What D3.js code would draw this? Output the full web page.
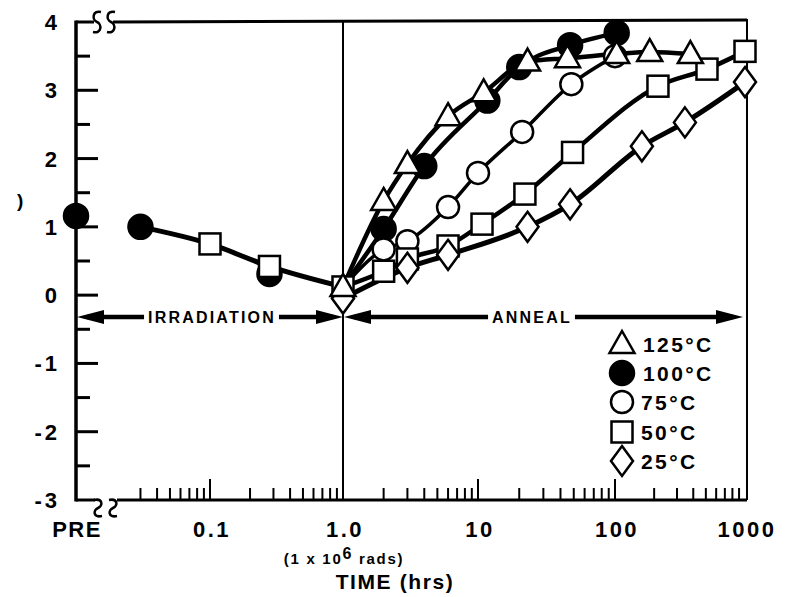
<!DOCTYPE html>
<html>
<head>
<meta charset="utf-8">
<script src="https://cdn.jsdelivr.net/npm/d3@7"></script>
<style>
  body { margin: 0; background: #fff; }
  svg { display: block; }
  text { font-family: "Liberation Sans", Arial, Helvetica, sans-serif; font-weight: bold; fill: #000; }
</style>
</head>
<body>
<svg id="chart" width="792" height="597"></svg>
<script>
// ---------- data ----------
const xMajorHours = [0.1, 1, 10, 100, 1000];
const xMajorLabels = ["0.1", "1.0", "10", "100", "1000"];
const yTickValues = [-3, -2, -1, 0, 1, 2, 3, 4];
const yTickLabels = ["-3", "-2", "-1", "0", "1", "2", "3", "4"];

// pre-irradiation reading
const preLabel = "PRE";
const preValue = 1.16;

// during irradiation (dose ramp up to 1 hour)
const irradHours   = [0.03, 0.1, 0.28, 1];
const irradValues  = [1.0, 0.75, 0.42, 0.12];
const irradSymbols = ["filled", "square", "square", null];
const irradHiddenHours  = [0.28];   // 100°C part sitting under the square
const irradHiddenValues = [0.31];

// anneal curves
const seriesNames   = ["125°C", "100°C", "75°C", "50°C", "25°C"];
const seriesSymbols = ["triangle", "filled", "circle", "square", "diamond"];

const hours125  = [1, 2, 3, 6, 11, 23, 45, 103, 185, 380];
const values125 = [0.12, 1.38, 1.92, 2.62, 2.97, 3.42, 3.47, 3.53, 3.56, 3.53];

const hours100  = [1, 2, 4, 11.7, 20, 47, 103];
const values100 = [0.12, 0.97, 1.89, 2.85, 3.34, 3.66, 3.84];

const hours75   = [1, 2, 3, 6, 10, 21, 48, 100];
const values75  = [0.12, 0.67, 0.79, 1.29, 1.79, 2.39, 3.09, 3.5];

const hours50   = [1, 2, 3, 6, 10.7, 22, 49, 214, 510, 1000];
const values50  = [0.12, 0.35, 0.53, 0.72, 1.04, 1.48, 2.09, 3.06, 3.31, 3.57];

const hours25   = [1, 3, 6, 23, 47, 161, 345, 1000];
const values25  = [-0.05, 0.4, 0.59, 1.0, 1.33, 2.18, 2.53, 3.12];

const annealHours  = [hours125, hours100, hours75, hours50, hours25];
const annealValues = [values125, values100, values75, values50, values25];

// ---------- layout ----------
const svg = d3.select("#chart");
const plotLeft = 76, plotRight = 747, plotTop = 22, plotBottom = 500;

// hand-ruled log axis: decades are not perfectly even
const x = d3.scaleLog()
  .domain([0.1, 1, 10, 100, 1000])
  .range([210, 343, 478, 615, 745]);
const xPre = d3.scaleOrdinal().domain([preLabel]).range([plotLeft]);
const y = d3.scaleLinear().domain([-3, 4]).range([plotBottom, plotTop]);

// ---------- frame ----------
const frame = svg.append("g").attr("fill", "none").attr("stroke", "#000");

// S-shaped axis break symbol (dir = -1 gives the mirrored form)
function breakS(cx, cy, h, dir = 1) {
  const a = h / 2, d = dir;
  return `M${cx + 4 * d},${cy - a} C${cx - 5 * d},${cy - a - 2} ${cx - 5 * d},${cy - 2} ${cx},${cy}` +
         ` C${cx + 5 * d},${cy + 2} ${cx + 5 * d},${cy + a + 2} ${cx - 4 * d},${cy + a}`;
}

// left axis
frame.append("line").attr("x1", plotLeft).attr("x2", plotLeft).attr("y1", plotTop - 1.5).attr("y2", plotBottom + 1.5)
  .attr("stroke-width", 3.5);
// top edge with break
frame.append("line").attr("x1", plotLeft).attr("x2", 94).attr("y1", plotTop).attr("y2", plotTop).attr("stroke-width", 3);
frame.append("path").attr("d", breakS(97, plotTop, 20)).attr("stroke-width", 2.5);
frame.append("path").attr("d", breakS(111, plotTop, 20)).attr("stroke-width", 2.5);
frame.append("line").attr("x1", 113).attr("x2", plotRight).attr("y1", plotTop).attr("y2", plotTop - 2).attr("stroke-width", 3);
// right edge
frame.append("line").attr("x1", plotRight).attr("x2", plotRight).attr("y1", plotTop - 3).attr("y2", plotBottom).attr("stroke-width", 2);
// bottom axis with break
frame.append("line").attr("x1", plotLeft).attr("x2", 95).attr("y1", plotBottom).attr("y2", plotBottom).attr("stroke-width", 3);
frame.append("path").attr("d", breakS(98, plotBottom + 8, 16, -1)).attr("stroke-width", 2.5);
frame.append("path").attr("d", breakS(113, plotBottom + 8, 16, -1)).attr("stroke-width", 2.5);
frame.append("line").attr("x1", 117).attr("x2", plotRight).attr("y1", plotBottom).attr("y2", plotBottom).attr("stroke-width", 3);
// boundary between irradiation and anneal
frame.append("line").attr("x1", x(1)).attr("x2", x(1)).attr("y1", plotTop).attr("y2", plotBottom).attr("stroke-width", 2);

// y ticks
const yMinor = d3.range(-2.5, 4, 1);
frame.selectAll(".ymaj").data(yTickValues.filter(v => v > -3 && v < 4)).join("line")
  .attr("x1", plotLeft).attr("x2", plotLeft + 22).attr("y1", d => y(d)).attr("y2", d => y(d)).attr("stroke-width", 3);
frame.selectAll(".ymin").data(yMinor).join("line")
  .attr("x1", plotLeft).attr("x2", plotLeft + 14).attr("y1", d => y(d)).attr("y2", d => y(d)).attr("stroke-width", 3);

svg.append("g").selectAll("text").data(yTickValues).join("text")
  .attr("x", 60).attr("y", d => y(d) + 8)
  .attr("text-anchor", "end")
  .style("font-size", "22px")
  .style("letter-spacing", "3px")
  .text((d, i) => yTickLabels[i]);

// x ticks (minor decades 0.03 .. 900)
const xMinor = [];
[0.01, 0.1, 1, 10, 100].forEach(dec => {
  for (let k = 2; k <= 9; k++) {
    const v = dec * k;
    if (v >= 0.03) xMinor.push(v);
  }
});
frame.selectAll(".xmin").data(xMinor).join("line")
  .attr("x1", d => x(d)).attr("x2", d => x(d)).attr("y1", plotBottom).attr("y2", plotBottom - 12).attr("stroke-width", 2);
frame.selectAll(".xmaj").data(xMajorHours.filter(v => v !== 1 && v !== 1000)).join("line")
  .attr("x1", d => x(d)).attr("x2", d => x(d)).attr("y1", plotBottom).attr("y2", plotBottom - 21).attr("stroke-width", 2);

const xLabels = svg.append("g").style("font-size", "22px").style("letter-spacing", "2.5px")
  .attr("text-anchor", "middle");
xLabels.append("text").attr("x", xPre(preLabel) + 1).attr("y", 537).style("letter-spacing", "1.5px").text(preLabel);
xLabels.selectAll(".xl").data(xMajorHours).join("text")
  .attr("x", d => x(d) + 2).attr("y", 537)
  .text((d, i) => xMajorLabels[i]);

// dose note and axis title
const note = svg.append("text").attr("x", x(1) + 1).attr("y", 564).attr("text-anchor", "middle")
  .style("font-size", "15px").style("letter-spacing", "1.7px");
note.append("tspan").text("(1 x 10");
note.append("tspan").attr("dy", -5).style("font-size", "16px").text("6");
note.append("tspan").attr("dy", 5).text(" rads)");

svg.append("text").attr("x", 395).attr("y", 589).attr("text-anchor", "middle")
  .style("font-size", "21px").style("letter-spacing", "1.6px").text("TIME (hrs)");

// remnant of the vertical axis title
svg.append("text").attr("x", 17).attr("y", 207).style("font-size", "19px").text(")");

// ---------- phase arrows ----------
const arrowY = 317;
const arrows = svg.append("g");
function arrowHead(tipX, dir) {
  const len = 27, half = 7;
  arrows.append("path")
    .attr("d", `M${tipX},${arrowY} L${tipX + dir * len},${arrowY - half} L${tipX + dir * len},${arrowY + half} Z`)
    .attr("fill", "#000");
}
function phaseArrow(x0, x1, label, textX) {
  const t = arrows.append("text").attr("x", textX).attr("y", arrowY + 6)
    .attr("text-anchor", "middle").style("font-size", "16px").style("letter-spacing", "2.2px").text(label);
  const w = t.node().getComputedTextLength();
  const tl = textX - w / 2 - 4, tr = textX + w / 2 + 3;
  arrows.append("line").attr("x1", x0 + 10).attr("x2", tl).attr("y1", arrowY).attr("y2", arrowY)
    .attr("stroke", "#000").attr("stroke-width", 4.5);
  arrows.append("line").attr("x1", tr).attr("x2", x1 - 10).attr("y1", arrowY).attr("y2", arrowY)
    .attr("stroke", "#000").attr("stroke-width", 4.5);
  arrowHead(x0, 1);
  arrowHead(x1, -1);
}
phaseArrow(plotLeft + 1, x(1), "IRRADIATION", 212);
phaseArrow(x(1) + 1, 743, "ANNEAL", 532);

// ---------- curves ----------
const line = d3.line().x(d => x(d[0])).y(d => y(d[1])).curve(d3.curveMonotoneX);
const curves = svg.append("g").attr("fill", "none").attr("stroke", "#000")
  .attr("stroke-linejoin", "round").attr("stroke-linecap", "round");

curves.append("path").datum(d3.zip(irradHours, irradValues)).attr("d", line).attr("stroke-width", 5);

const curveWidths = [4.5, 4.5, 3.5, 4.5, 5];
annealHours.forEach((hs, i) => {
  curves.append("path").datum(d3.zip(hs, annealValues[i])).attr("d", line).attr("stroke-width", curveWidths[i]);
});

// ---------- markers ----------
function marker(g, type, cx, cy) {
  const s = { stroke: "#000", "stroke-width": 2.5, fill: "#fff" };
  let el;
  if (type === "triangle") {
    el = g.append("path").attr("d", `M${cx},${cy - 13} L${cx + 12.5},${cy + 9} L${cx - 12.5},${cy + 9} Z`);
  } else if (type === "filled") {
    el = g.append("circle").attr("cx", cx).attr("cy", cy).attr("r", 12);
    s.fill = "#000";
  } else if (type === "circle") {
    el = g.append("circle").attr("cx", cx).attr("cy", cy).attr("r", 11);
  } else if (type === "square") {
    el = g.append("rect").attr("x", cx - 10.5).attr("y", cy - 10.5).attr("width", 21).attr("height", 21);
  } else {
    el = g.append("path").attr("d", `M${cx},${cy - 15} L${cx + 11},${cy} L${cx},${cy + 15} L${cx - 11},${cy} Z`);
  }
  Object.entries(s).forEach(([k, v]) => el.attr(k, v));
  el.attr("stroke-linejoin", "miter");
}

const marks = svg.append("g");
// pre value
marker(marks, "filled", xPre(preLabel), y(preValue));
// irradiation points
irradHiddenHours.forEach((h, i) => marker(marks, "filled", x(h), y(irradHiddenValues[i])));
irradHours.forEach((h, i) => { if (irradSymbols[i]) marker(marks, irradSymbols[i], x(h), y(irradValues[i])); });

// anneal points, drawn so that the open shapes sit over the filled dots
const drawOrder = [1, 2, 3, 4, 0];
drawOrder.forEach(i => {
  annealHours[i].forEach((h, j) => {
    if (h === 1 && (i === 1 || i === 2)) return; // hidden beneath the start square
    marker(marks, seriesSymbols[i], x(h), y(annealValues[i][j]));
  });
});

// ---------- legend ----------
const legendRows = [344, 373, 402, 432, 461];
const legend = svg.append("g");
seriesNames.forEach((name, i) => {
  marker(legend, seriesSymbols[i], 622, legendRows[i]);
  legend.append("text").attr("x", i < 2 ? 643 : 641).attr("y", legendRows[i] + 8)
    .style("font-size", "21px").style("letter-spacing", "2.4px").text(name);
});
</script>
</body>
</html>
